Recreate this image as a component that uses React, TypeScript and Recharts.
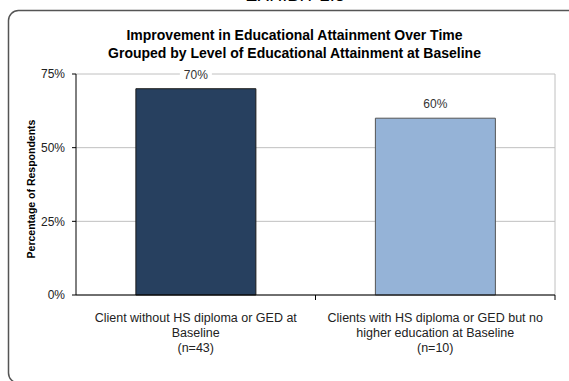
import React from 'react';
import {
  Bar,
  BarChart,
  CartesianGrid,
  LabelList,
  XAxis,
  YAxis,
} from 'recharts';

const FONT = '"Liberation Sans", Arial, sans-serif';

// Two baseline groups, share of respondents who improved.
const categories = ['no-hs', 'hs-only'];
const categoryLines = [
  ['Client without HS diploma or GED at', 'Baseline'],
  ['Clients with HS diploma or GED but no', 'higher education at Baseline'],
];
const sampleSizes = [43, 10];
const improvedPct = [70, 60];
const barColors = ['#27405f', '#95b3d7'];
const barStrokes = ['#1a1a1a', '#555555'];
const yTicks = [0, 25, 50, 75];

const titleLines = [
  'Improvement in Educational Attainment Over Time',
  'Grouped by Level of Educational Attainment at Baseline',
];

const data = categories.map((key, i) => ({
  key,
  value: improvedPct[i],
  fill: barColors[i],
  stroke: barStrokes[i],
}));

// Category label on three lines plus an Excel-style tick at the
// category boundary (not at its centre).
function CategoryTick(props: any) {
  const { x, y, index, width, visibleTicksCount } = props;
  const half = width && visibleTicksCount ? width / visibleTicksCount / 2 : 120;
  const lines = [...categoryLines[index], `(n=${sampleSizes[index]})`];
  return (
    <g>
      <line x1={x + half} x2={x + half} y1={y - 8} y2={y - 3} stroke="#000" strokeWidth={1} />
      {lines.map((t, i) => (
        <text
          key={i}
          x={x}
          y={y + 19 + i * 15}
          textAnchor="middle"
          fontSize={12.5}
          fontFamily={FONT}
          fill="#222"
        >
          {t}
        </text>
      ))}
    </g>
  );
}

function ValueLabel(props: any) {
  const { x, y, width, value } = props;
  const cx = x + width / 2;
  const cy = y - 14;
  return (
    <g>
      <rect x={cx - 16} y={cy - 7} width={32} height={14} fill="#fff" />
      <text
        x={cx}
        y={cy + 4}
        textAnchor="middle"
        fontSize={12}
        fontFamily={FONT}
        fill="#333"
      >
        {`${value}%`}
      </text>
    </g>
  );
}

export default function App() {
  return (
    <div
      style={{
        position: 'fixed',
        left: 0,
        top: 0,
        width: 569,
        height: 381,
        overflow: 'hidden',
        background: '#fff',
        fontFamily: FONT,
      }}
    >
      <div
        style={{
          position: 'absolute',
          left: 0,
          width: 590,
          top: -15,
          textAlign: 'center',
          fontSize: 18,
          lineHeight: '20px',
          color: '#000',
        }}
      >
        EXHIBIT 2.8
      </div>
      <svg
        width={569}
        height={381}
        style={{ position: 'absolute', left: 0, top: 0 }}
      >
        {/* rounded frame, open on the right and bottom */}
        <path
          d="M 580 10.5 L 18.5 10.5 A 10 10 0 0 0 8.5 20.5 L 8.5 373 A 10 10 0 0 0 18.5 383"
          fill="none"
          stroke="#555"
          strokeWidth={1.5}
        />
      </svg>
      <div
        style={{
          position: 'absolute',
          left: 0,
          top: 26,
          width: 589,
          textAlign: 'center',
          fontSize: 14,
          fontWeight: 'bold',
          lineHeight: '18px',
          color: '#000',
        }}
      >
        {titleLines.map((t) => (
          <div key={t}>{t}</div>
        ))}
      </div>
      <div
        style={{
          position: 'absolute',
          left: 31,
          top: 189,
          transform: 'translate(-50%, -50%) rotate(-90deg)',
          fontSize: 10.5,
          fontWeight: 'bold',
          whiteSpace: 'nowrap',
          color: '#000',
        }}
      >
        Percentage of Respondents
      </div>
      <div style={{ position: 'absolute', left: 0, top: 0 }}>
        <BarChart
          width={569}
          height={381}
          data={data}
          margin={{ top: 74, right: 14, bottom: 26, left: 36 }}
          barCategoryGap="25%"
          accessibilityLayer={false}
          style={{ outline: 'none' }}
        >
          <CartesianGrid
            stroke="#c0c0c0"
            horizontalValues={yTicks}
            verticalCoordinatesGenerator={({ offset }: any) => [
              offset.left + offset.width,
            ]}
          />
          <XAxis
            dataKey="key"
            height={60}
            axisLine={{ stroke: '#000' }}
            tickLine={false}
            tick={<CategoryTick />}
            interval={0}
          />
          <YAxis
            width={40}
            domain={[0, 75]}
            ticks={yTicks}
            tickFormatter={(v) => `${v}%`}
            axisLine={{ stroke: '#000' }}
            tickLine={{ stroke: '#000' }}
            tickSize={4}
            tickMargin={7}
            tick={{ fontSize: 12, fill: '#222', fontFamily: FONT }}
          />
          <Bar dataKey="value" isAnimationActive={false} strokeWidth={1}>
            <LabelList dataKey="value" content={<ValueLabel />} />
          </Bar>
        </BarChart>
      </div>
    </div>
  );
}
